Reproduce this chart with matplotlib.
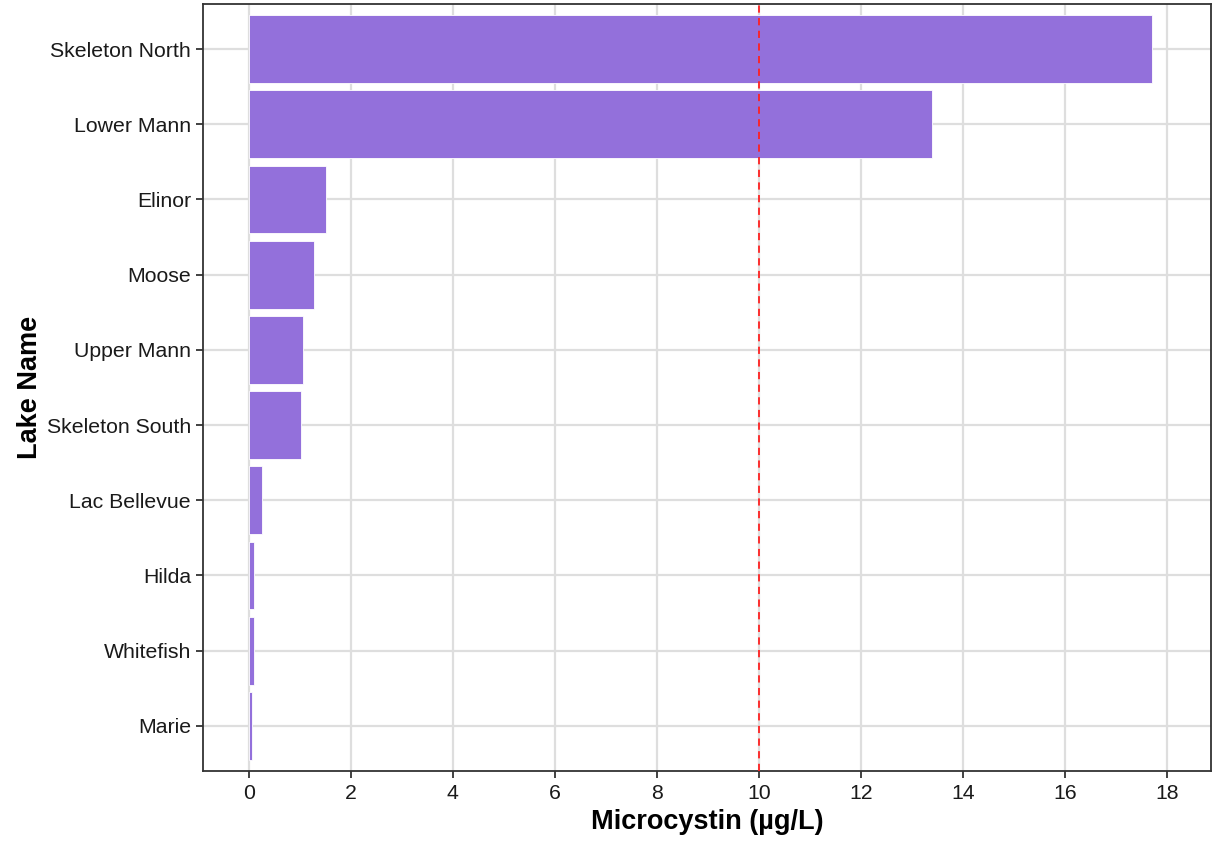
import matplotlib
matplotlib.use("Agg")
import matplotlib.pyplot as plt

plt.rcParams["font.family"] = ["Liberation Sans", "DejaVu Sans"]

lakes = ["Skeleton North", "Lower Mann", "Elinor", "Moose", "Upper Mann",
         "Skeleton South", "Lac Bellevue", "Hilda", "Whitefish", "Marie"]
microcystin = [17.71, 13.39, 1.52, 1.27, 1.07, 1.03, 0.255, 0.10, 0.10, 0.065]
threshold = 10
x_ticks = [0, 2, 4, 6, 8, 10, 12, 14, 16, 18]

fig = plt.figure(figsize=(12.14, 8.43), dpi=100)
ax = fig.add_axes([0.1676, 0.0854, 0.8299, 0.9099])

# lowest value at the bottom, like the usual ordered bar chart
ypos = list(range(len(lakes)))[::-1]
ax.barh(ypos, microcystin, height=0.9, color="#9370DB",
        edgecolor="white", linewidth=0.6, zorder=3)
ax.axvline(threshold, color="#FF2020", linestyle=(0, (4, 3)), linewidth=1.3, zorder=4)

ax.set_yticks(ypos)
ax.set_yticklabels(lakes)
ax.set_xticks(x_ticks)
ax.set_xlim(-0.89, 18.86)
ax.set_ylim(-0.6, len(lakes) - 0.4)

ax.grid(True, color="#DEDEDE", linewidth=1.6, zorder=0)
ax.set_axisbelow(True)
for s in ax.spines.values():
    s.set_color("#333333")
    s.set_linewidth(1.3)
ax.tick_params(axis="both", length=5, width=1.3, color="#333333",
               labelsize=15.3, labelcolor="#1a1a1a", pad=4)

ax.set_xlabel("Microcystin (µg/L)", fontsize=19.5, fontweight="bold", labelpad=5)
ax.set_ylabel("Lake Name", fontsize=19.5, fontweight="bold", labelpad=3)

fig.savefig("out.png", dpi=100)
